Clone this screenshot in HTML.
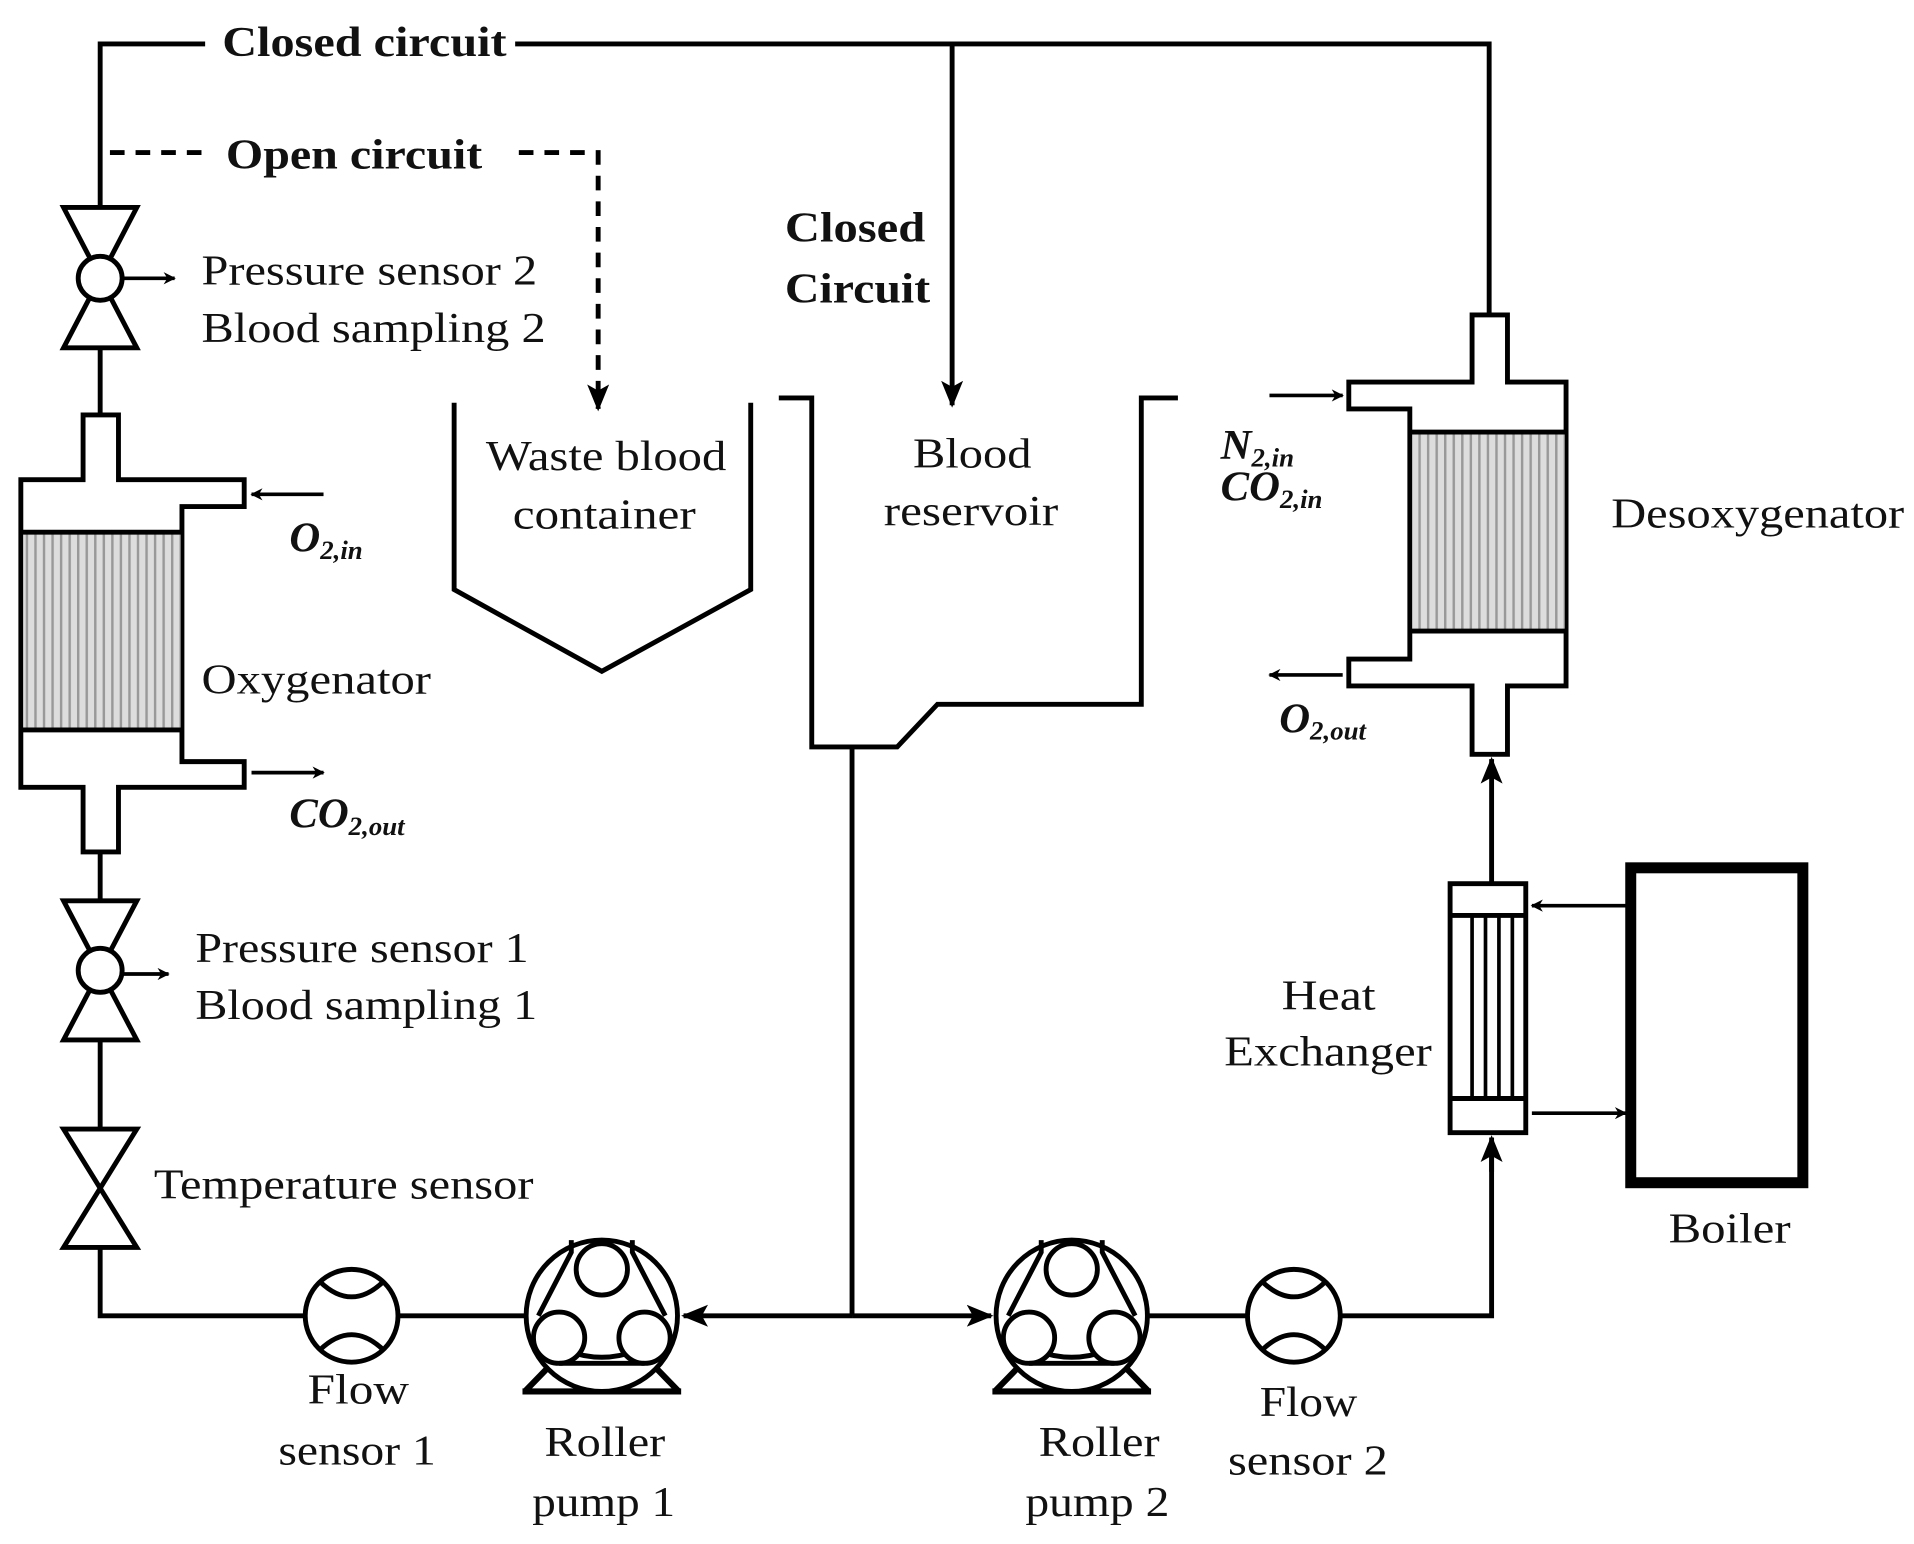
<!DOCTYPE html>
<html><head><meta charset="utf-8"><style>
html,body{margin:0;padding:0;background:#fff;}
svg{display:block;}
text{font-family:"Liberation Serif",serif;fill:#111;font-size:35px;}
.b{font-weight:bold;}
.i{font-weight:bold;font-style:italic;}
</style></head><body>
<svg width="1914" height="1544" viewBox="0 0 1568 1265" xmlns="http://www.w3.org/2000/svg">
<defs>
<marker id="a" markerWidth="10" markerHeight="10" refX="9" refY="5" orient="auto" markerUnits="userSpaceOnUse" viewBox="0 0 10 10"><path d="M0,0 L10,5 L0,10 L3,5z" fill="#000"/></marker>
<marker id="A" markerWidth="22" markerHeight="22" refX="20" refY="11" orient="auto" markerUnits="userSpaceOnUse" viewBox="0 0 22 22"><path d="M0,2 L22,11 L0,20 L5,11z" fill="#000"/></marker>
<pattern id="m" width="7" height="10" patternUnits="userSpaceOnUse"><rect width="7" height="10" fill="#ddd"/><rect width="2" height="10" fill="#999"/></pattern>
</defs>
<g fill="none" stroke="#000" stroke-width="4">
<polyline points="82,170 82,36 168,36"/>
<polyline points="422,36 1220,36 1220,258"/>
<line x1="780" y1="36" x2="780" y2="332" marker-end="url(#A)"/>
<path d="M90,125 H170 M425,125 H490 V335" stroke-dasharray="12,9" marker-end="url(#A)"/>
<path d="M52,170 H112 L52,285 H112 Z" fill="#fff"/>
<circle cx="82" cy="228" r="18" fill="#fff"/>
<line x1="100" y1="228" x2="143" y2="228" marker-end="url(#a)" stroke-width="3"/>
<line x1="82" y1="285" x2="82" y2="340"/>
<path d="M68,340 H97 V393 H200 V415 H149 V624 H200 V645 H97 V698 H68 V645 H17 V393 H68 Z" fill="#fff"/>
<rect x="19" y="436" width="129" height="162" fill="url(#m)" stroke="none"/>
<line x1="17" y1="436" x2="149" y2="436"/>
<line x1="17" y1="598" x2="149" y2="598"/>
<line x1="265" y1="405" x2="206" y2="405" marker-end="url(#a)" stroke-width="3"/>
<line x1="206" y1="633" x2="265" y2="633" marker-end="url(#a)" stroke-width="3"/>
<line x1="82" y1="698" x2="82" y2="738"/>
<path d="M52,738 H112 L52,852 H112 Z" fill="#fff"/>
<circle cx="82" cy="795" r="18" fill="#fff"/>
<line x1="100" y1="798" x2="138" y2="798" marker-end="url(#a)" stroke-width="3"/>
<line x1="82" y1="852" x2="82" y2="925"/>
<path d="M52,925 H112 L52,1022 H112 Z" fill="#fff"/>
<polyline points="82,1022 82,1078 250,1078"/>
<circle cx="288" cy="1078" r="38" fill="#fff"/>
<path d="M262,1050 Q288,1075 314,1050 M262,1106 Q288,1081 314,1106"/>
<line x1="326" y1="1078" x2="431" y2="1078"/>
<g transform="translate(493,1078)">
<path d="M-63,62 L-30,28 M63,62 L30,28 M-65,62 H65" stroke-width="5"/>
<circle r="62" fill="#fff"/>
<path d="M-30,28 Q0,40 30,28"/>
<circle cx="0" cy="-38" r="21" fill="#fff"/><circle cx="-35" cy="18" r="21" fill="#fff"/><circle cx="35" cy="18" r="21" fill="#fff"/>
<path d="M-25,-62 L-25,-52 L-52,0 M25,-62 L25,-52 L52,0"/>
<line x1="-35" y1="39" x2="35" y2="39"/>
</g>
<line x1="698" y1="1078" x2="560" y2="1078" marker-end="url(#A)"/>
<line x1="698" y1="1078" x2="812" y2="1078" marker-end="url(#A)"/>
<line x1="698" y1="612" x2="698" y2="1078"/>
<g transform="translate(878,1078)">
<path d="M-63,62 L-30,28 M63,62 L30,28 M-65,62 H65" stroke-width="5"/>
<circle r="62" fill="#fff"/>
<path d="M-30,28 Q0,40 30,28"/>
<circle cx="0" cy="-38" r="21" fill="#fff"/><circle cx="-35" cy="18" r="21" fill="#fff"/><circle cx="35" cy="18" r="21" fill="#fff"/>
<path d="M-25,-62 L-25,-52 L-52,0 M25,-62 L25,-52 L52,0"/>
<line x1="-35" y1="39" x2="35" y2="39"/>
</g>
<line x1="940" y1="1078" x2="1022" y2="1078"/>
<circle cx="1060" cy="1078" r="38" fill="#fff"/>
<path d="M1034,1050 Q1060,1075 1086,1050 M1034,1106 Q1060,1081 1086,1106"/>
<polyline points="1098,1078 1222,1078 1222,935"/>
<line x1="1222" y1="960" x2="1222" y2="932" marker-end="url(#A)"/>
<rect x="1188" y="724" width="62" height="204" fill="#fff"/>
<line x1="1188" y1="750" x2="1250" y2="750"/>
<line x1="1188" y1="900" x2="1250" y2="900"/>
<path d="M1206,750 V900 M1217,750 V900 M1228,750 V900 M1239,750 V900" stroke-width="3"/>
<line x1="1222" y1="724" x2="1222" y2="622" marker-end="url(#A)"/>
<rect x="1336" y="711" width="141" height="258" stroke-width="9"/>
<line x1="1332" y1="742" x2="1255" y2="742" marker-end="url(#a)" stroke-width="3"/>
<line x1="1255" y1="912" x2="1332" y2="912" marker-end="url(#a)" stroke-width="3"/>
<path d="M1206,258 H1235 V313 H1283 V562 H1235 V618 H1206 V562 H1105 V540 H1155 V335 H1105 V313 H1206 Z" fill="#fff"/>
<rect x="1157" y="354" width="125" height="162" fill="url(#m)" stroke="none"/>
<line x1="1155" y1="354" x2="1283" y2="354"/>
<line x1="1155" y1="517" x2="1283" y2="517"/>
<line x1="1040" y1="324" x2="1100" y2="324" marker-end="url(#a)" stroke-width="3"/>
<line x1="1100" y1="553" x2="1040" y2="553" marker-end="url(#a)" stroke-width="3"/>
<polyline points="372,330 372,483 493,550 615,483 615,330"/>
<polyline points="638,326 665,326 665,612 735,612 768,577 935,577 935,326 965,326"/>
</g>
<g lengthAdjust="spacingAndGlyphs">
<text x="182" y="46" class="b" textLength="233" lengthAdjust="spacingAndGlyphs">Closed circuit</text>
<text x="185" y="138" class="b" textLength="210" lengthAdjust="spacingAndGlyphs">Open circuit</text>
<text x="643" y="198" class="b" textLength="115" lengthAdjust="spacingAndGlyphs">Closed</text>
<text x="643" y="248" class="b" textLength="119" lengthAdjust="spacingAndGlyphs">Circuit</text>
<text x="165" y="233" textLength="275" lengthAdjust="spacingAndGlyphs">Pressure sensor 2</text>
<text x="165" y="280" textLength="282" lengthAdjust="spacingAndGlyphs">Blood sampling 2</text>
<text x="398" y="385" textLength="197" lengthAdjust="spacingAndGlyphs">Waste blood</text>
<text x="420" y="433" textLength="150" lengthAdjust="spacingAndGlyphs">container</text>
<text x="748" y="383" textLength="97" lengthAdjust="spacingAndGlyphs">Blood</text>
<text x="724" y="430" textLength="143" lengthAdjust="spacingAndGlyphs">reservoir</text>
<text x="237" y="452" class="i" font-size="28">O<tspan font-size="22" dy="6">2,in</tspan></text>
<text x="165" y="568" textLength="188" lengthAdjust="spacingAndGlyphs">Oxygenator</text>
<text x="237" y="678" class="i" font-size="28">CO<tspan font-size="22" dy="6">2,out</tspan></text>
<text x="1000" y="376" class="i" font-size="28">N<tspan font-size="22" dy="6">2,in</tspan></text>
<text x="1000" y="410" class="i" font-size="28">CO<tspan font-size="22" dy="6">2,in</tspan></text>
<text x="1320" y="432" textLength="240" lengthAdjust="spacingAndGlyphs">Desoxygenator</text>
<text x="1048" y="600" class="i" font-size="28">O<tspan font-size="22" dy="6">2,out</tspan></text>
<text x="160" y="788" textLength="273" lengthAdjust="spacingAndGlyphs">Pressure sensor 1</text>
<text x="160" y="835" textLength="280" lengthAdjust="spacingAndGlyphs">Blood sampling 1</text>
<text x="1050" y="827" textLength="77" lengthAdjust="spacingAndGlyphs">Heat</text>
<text x="1003" y="873" textLength="170" lengthAdjust="spacingAndGlyphs">Exchanger</text>
<text x="126" y="982" textLength="311" lengthAdjust="spacingAndGlyphs">Temperature sensor</text>
<text x="1367" y="1018" textLength="100" lengthAdjust="spacingAndGlyphs">Boiler</text>
<text x="252" y="1150" textLength="83" lengthAdjust="spacingAndGlyphs">Flow</text>
<text x="228" y="1200" textLength="129" lengthAdjust="spacingAndGlyphs">sensor 1</text>
<text x="446" y="1193" textLength="99" lengthAdjust="spacingAndGlyphs">Roller</text>
<text x="436" y="1242" textLength="117" lengthAdjust="spacingAndGlyphs">pump 1</text>
<text x="851" y="1193" textLength="99" lengthAdjust="spacingAndGlyphs">Roller</text>
<text x="840" y="1242" textLength="118" lengthAdjust="spacingAndGlyphs">pump 2</text>
<text x="1032" y="1160" textLength="80" lengthAdjust="spacingAndGlyphs">Flow</text>
<text x="1006" y="1208" textLength="131" lengthAdjust="spacingAndGlyphs">sensor 2</text>
</g>
</svg>
</body></html>
